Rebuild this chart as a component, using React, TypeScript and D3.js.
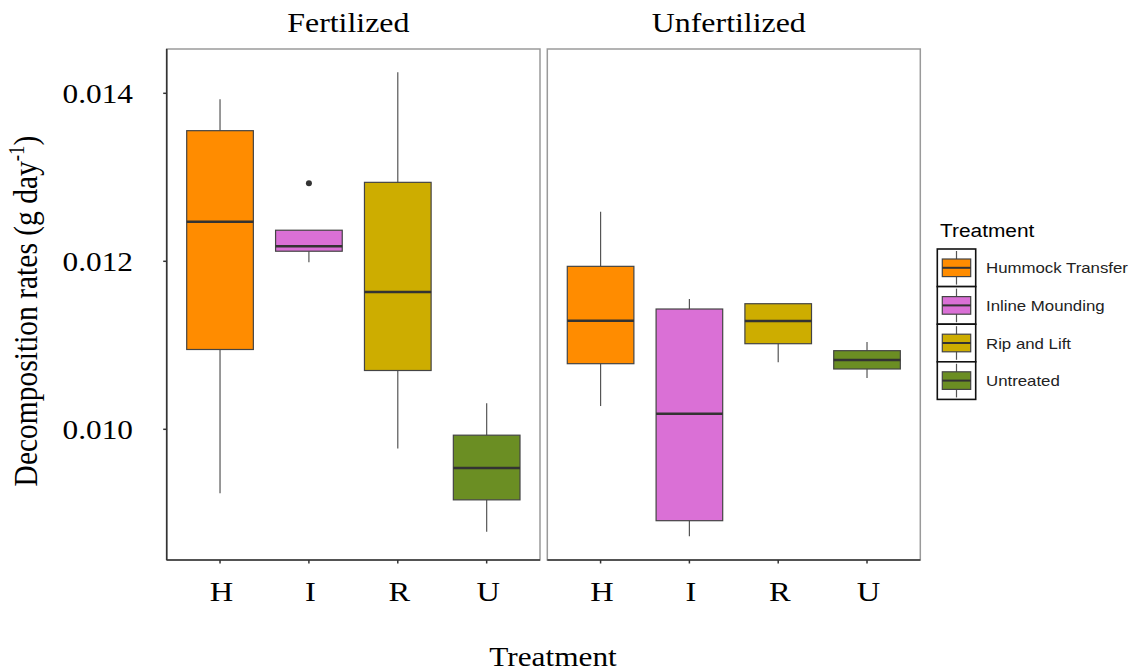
import React from 'react';
import * as d3 from 'd3';

const panels = ['Fertilized', 'Unfertilized'];
const categories = ['H', 'I', 'R', 'U'];
const treatmentNames = ['Hummock Transfer', 'Inline Mounding', 'Rip and Lift', 'Untreated'];
const colors = ['#FF8C00', '#DA70D6', '#CDAD00', '#6B8E23'];
const yTicks = [0.010, 0.012, 0.014];
const yTickLabels = ['0.010', '0.012', '0.014'];

// [lower whisker, Q1, median, Q3, upper whisker]
const fertilizedStats = [
  [0.00924, 0.01095, 0.01247, 0.013555, 0.01393],
  [0.01199, 0.01212, 0.01218, 0.01237, 0.01237],
  [0.00977, 0.0107, 0.011635, 0.01294, 0.01425],
  [0.00878, 0.00916, 0.00954, 0.00993, 0.01031],
];
const unfertilizedStats = [
  [0.010277, 0.010781, 0.011293, 0.01194, 0.01259],
  [0.008726, 0.008912, 0.010186, 0.011432, 0.011551],
  [0.010798, 0.011019, 0.011289, 0.011495, 0.011495],
  [0.010611, 0.010718, 0.010825, 0.010936, 0.011039],
];
const fertilizedOutliers = [[], [0.01293], [], []];
const unfertilizedOutliers = [[], [], [], []];

const W = 1137;
const H = 671;
const SX = 1.16; // horizontal text stretch of the reference
const serif = '"Liberation Serif", "Times New Roman", serif';
const sans = '"Liberation Sans", Arial, sans-serif';

const panelTop = 49;
const panelBottom = 560;
const panelX = [[166.7, 540], [547.3, 920.3]];

const y = d3.scaleLinear().domain([0.010, 0.014]).range([429.3, 93.3]);

function SText({ x, y, size, anchor = 'middle', family = serif, fill = '#000', children }: any) {
  return (
    <g transform={`translate(${x},${y})`}>
      <text transform={`scale(${SX},1)`} fontFamily={family} fontSize={size} textAnchor={anchor} fill={fill}>
        {children}
      </text>
    </g>
  );
}

export default function App() {
  const allStats = [fertilizedStats, unfertilizedStats];
  const allOut = [fertilizedOutliers, unfertilizedOutliers];
  return (
    <svg width={W} height={H} style={{ position: 'absolute', left: 0, top: 0, background: '#fff' }}>
      <rect x={0} y={0} width={W} height={H} fill="#fff" />
      {panels.map((p, pi) => {
        const [x0, x1] = panelX[pi];
        const x = d3.scalePoint<string>().domain(categories).range([x0, x1]).padding(0.6);
        const bw = x.step() * 0.75;
        const stats = allStats[pi];
        return (
          <g key={p}>
            <rect x={x0} y={panelTop} width={x1 - x0} height={panelBottom - panelTop} fill="#fff" stroke="#9a9a9a" strokeWidth={1.5} />
            <SText x={(x0 + x1) / 2 - 5} y={32} size={27.5}>{p}</SText>
            {categories.map((c, ci) => {
              const [lo, q1, med, q3, hi] = stats[ci];
              const cx = x(c)!;
              return (
                <g key={c}>
                  <line x1={cx} x2={cx} y1={y(hi)} y2={y(q3)} stroke="#555" strokeWidth={1.2} />
                  <line x1={cx} x2={cx} y1={y(q1)} y2={y(lo)} stroke="#555" strokeWidth={1.2} />
                  <rect x={cx - bw / 2} y={y(q3)} width={bw} height={y(q1) - y(q3)} fill={colors[ci]} stroke="#444" strokeWidth={1.2} />
                  <line x1={cx - bw / 2} x2={cx + bw / 2} y1={y(med)} y2={y(med)} stroke="#333" strokeWidth={2.4} />
                  {allOut[pi][ci].map((o, oi) => (
                    <circle key={oi} cx={cx} cy={y(o)} r={3} fill="#333" />
                  ))}
                </g>
              );
            })}
            <line x1={x0} x2={x1} y1={panelBottom} y2={panelBottom} stroke="#333" strokeWidth={1.6} />
            {categories.map((c) => (
              <g key={'t' + c}>
                <line x1={x(c)!} x2={x(c)!} y1={panelBottom} y2={panelBottom + 3.5} stroke="#333" strokeWidth={1.5} />
                <SText x={x(c)! + 1.5} y={601} size={28}>{c}</SText>
              </g>
            ))}
            {pi === 0 && (
              <g>
                <line x1={x0} x2={x0} y1={panelTop} y2={panelBottom} stroke="#333" strokeWidth={1.6} />
                {yTicks.map((t, ti) => (
                  <g key={t}>
                    <line x1={x0 - 3.5} x2={x0} y1={y(t)} y2={y(t)} stroke="#333" strokeWidth={1.5} />
                    <SText x={133} y={y(t) + 9.5} size={27} anchor="end">{yTickLabels[ti]}</SText>
                  </g>
                ))}
              </g>
            )}
          </g>
        );
      })}
      <SText x={553} y={666} size={27}>Treatment</SText>
      <g transform={`translate(37,311) scale(${SX},1) rotate(-90)`}>
        <text fontFamily={serif} fontSize={29.5} textAnchor="middle" fill="#000">
          Decomposition rates (g day
          <tspan fontSize={19} dy={-11}>-1</tspan>
          <tspan dy={11}>)</tspan>
        </text>
      </g>
      <SText x={940} y={237} size={18} anchor="start" family={sans}>Treatment</SText>
      {treatmentNames.map((n, i) => {
        const kx = 937.3;
        const kw = 38.4;
        const kh = 37.6;
        const ky = 249 + i * kh;
        const cx = kx + kw / 2;
        return (
          <g key={n}>
            <rect x={kx} y={ky} width={kw} height={kh} fill="#fff" stroke="#111" strokeWidth={1.6} />
            <line x1={cx} x2={cx} y1={ky + 2} y2={ky + kh - 2} stroke="#555" strokeWidth={1.2} />
            <rect x={kx + 5} y={ky + 10} width={kw - 10} height={kh - 20} fill={colors[i]} stroke="#444" strokeWidth={1.2} />
            <line x1={kx + 5} x2={kx + kw - 5} y1={ky + kh / 2} y2={ky + kh / 2} stroke="#333" strokeWidth={2} />
            <SText x={986} y={ky + kh / 2 + 5.5} size={14.5} anchor="start" family={sans} fill="#222">{n}</SText>
          </g>
        );
      })}
    </svg>
  );
}
